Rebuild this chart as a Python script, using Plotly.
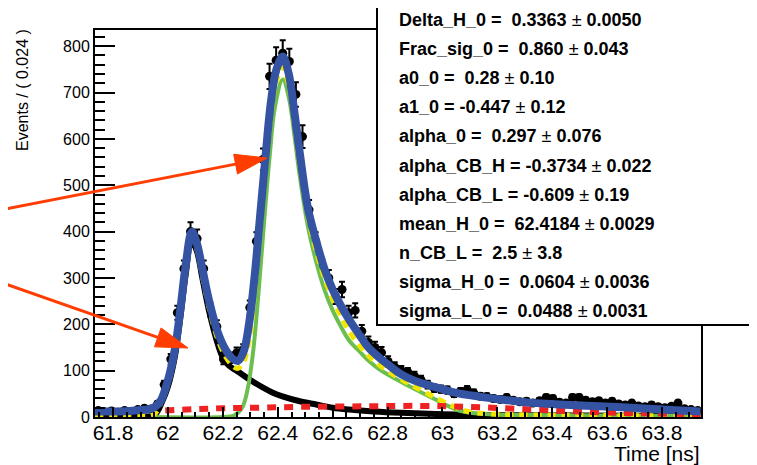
import numpy as np
import plotly.graph_objects as go

# histogram: 92 bins of 0.024 ns from 61.734 to 63.942
bin_lo = 61.734
bin_w = 0.024
counts = [14, 11, 13, 10, 14, 12, 16, 19, 17, 28,
          70, 125, 225, 320, 400, 385, 320, 232, 195, 125,
          128, 138, 145, 236, 379, 556, 735, 770, 785, 767,
          696, 605, 447, 379, 322, 300, 260, 275, 225, 230,
          185, 161, 150, 139, 120, 108, 100, 96, 88, 80,
          70, 62, 60, 58, 50, 55, 59, 52, 45, 44,
          40, 38, 42, 36, 33, 34, 30, 35, 42, 40,
          32, 30, 42, 42, 36, 33, 35, 30, 34, 28,
          26, 30, 24, 22, 26, 22, 20, 23, 30, 18,
          16, 14]
centers = bin_lo + bin_w * (np.arange(len(counts)) + 0.5)
errs = np.sqrt(counts)

# fit curves
tot_x = [61.734, 61.80, 61.86, 61.90, 61.94, 61.97, 62.00, 62.025, 62.045, 62.065,
         62.087, 62.105, 62.125, 62.15, 62.18, 62.21, 62.235, 62.255, 62.275, 62.295,
         62.315, 62.335, 62.355, 62.375, 62.395, 62.418, 62.44, 62.46, 62.48, 62.51,
         62.54, 62.571, 62.60, 62.63, 62.66, 62.70, 62.73, 62.77, 62.80, 62.85,
         62.90, 62.953, 63.00, 63.05, 63.135, 63.20, 63.316, 63.40, 63.50, 63.655,
         63.80, 63.94]
tot_y = [12, 12, 13, 15, 18, 32, 80, 146, 232, 330,
         400, 375, 320, 250, 185, 145, 126, 121, 140, 200,
         300, 430, 560, 680, 750, 778, 740, 660, 570, 450,
         380, 318, 275, 240, 210, 175, 150, 128, 114, 92,
         78, 68, 60, 52, 44, 39, 31, 28, 25, 21,
         16, 12]

hi_x = [61.95, 62.20, 62.24, 62.27, 62.29, 62.31, 62.33, 62.35, 62.37, 62.39,
        62.418, 62.44, 62.46, 62.48, 62.51, 62.54, 62.57, 62.60, 62.63, 62.66,
        62.70, 62.73, 62.77, 62.83, 62.89, 62.95, 62.98, 63.02, 63.06, 63.10,
        63.20, 63.40, 63.60, 63.94]
hi_y = [0, 0, 3, 20, 60, 140, 270, 420, 560, 670,
        728, 690, 610, 520, 410, 335, 275, 230, 195, 165,
        140, 122, 103, 82, 63, 45, 36, 24, 14, 9,
        5, 4, 3, 2]

sig_x = [61.734, 61.90, 61.95, 61.98, 62.00, 62.025, 62.045, 62.065, 62.085, 62.105,
         62.125, 62.15, 62.18, 62.21, 62.24, 62.255, 62.275, 62.295, 62.315, 62.335,
         62.355, 62.375, 62.395, 62.418, 62.44, 62.46, 62.48, 62.51, 62.54, 62.57,
         62.60, 62.63, 62.66, 62.70, 62.73, 62.77, 62.83, 62.89, 62.95, 62.98,
         63.02, 63.06, 63.10, 63.20, 63.40, 63.60, 63.94]
sig_y = [0, 1, 6, 40, 70, 135, 220, 315, 385, 362,
         305, 235, 170, 130, 108, 105, 118, 165, 265, 400,
         530, 650, 725, 755, 715, 635, 545, 432, 358, 300,
         255, 218, 185, 152, 132, 112, 88, 68, 49, 40,
         28, 18, 11, 6, 4, 3, 2]

lo_x = [61.734, 61.90, 61.95, 61.98, 62.00, 62.025, 62.045, 62.065, 62.085, 62.105,
        62.125, 62.15, 62.18, 62.20, 62.22, 62.26, 62.31, 62.38, 62.42, 62.48,
        62.54, 62.60, 62.66, 62.75, 62.85, 63.00, 63.20, 63.50, 63.94]
lo_y = [0, 1, 4, 35, 66, 130, 215, 310, 380, 358,
        300, 228, 160, 128, 112, 96, 76, 53, 44, 34,
        27, 20, 16, 12, 9, 6, 4, 3, 2]

bkg_x = [61.99, 62.10, 62.20, 62.32, 62.50, 62.72, 62.92, 63.09, 63.34, 63.58, 63.94]
bkg_y = [14, 17, 19, 20, 22, 23, 24, 22, 16, 10, 6]

par_names = ["Delta_H_0", "Frac_sig_0", "a0_0", "a1_0", "alpha_0", "alpha_CB_H",
             "alpha_CB_L", "mean_H_0", "n_CB_L", "sigma_H_0", "sigma_L_0"]
par_vals = ["0.3363", "0.860", "0.28", "-0.447", "0.297", "-0.3734",
            "-0.609", "62.4184", "2.5", "0.0604", "0.0488"]
par_errs = ["0.0050", "0.043", "0.10", "0.12", "0.076", "0.022",
            "0.19", "0.0029", "3.8", "0.0036", "0.0031"]

# the page puts the figure 8px in from the top-left corner, so the figure is
# made 8px smaller and every position below is given in page pixels
OFF = 8
FW, FH = 757 - OFF, 465 - OFF
L, T, R, B = 95, 30, 701, 417      # plot frame, page pixels
W, H = R - L, B - T


def px(x):
    return (x - L) / W


def py(y):
    return (B - y) / H


fig = go.Figure()
fig.add_trace(go.Scatter(x=centers, y=counts, mode="markers",
                         marker=dict(color="black", size=9),
                         error_y=dict(type="data", array=errs, color="black",
                                      thickness=2, width=3)))
fig.add_trace(go.Scatter(x=lo_x, y=lo_y, mode="lines", line_shape="spline",
                         line=dict(color="black", width=6)))
fig.add_trace(go.Scatter(x=hi_x, y=hi_y, mode="lines", line_shape="spline",
                         line=dict(color="#6cbf4f", width=4)))
fig.add_trace(go.Scatter(x=sig_x, y=sig_y, mode="lines", line_shape="spline",
                         line=dict(color="#f2e600", width=5, dash="8px,6px")))
fig.add_trace(go.Scatter(x=bkg_x, y=bkg_y, mode="lines", line_shape="spline",
                         line=dict(color="#ee2222", width=6, dash="9px,8px")))
fig.add_trace(go.Scatter(x=tot_x, y=tot_y, mode="lines", line_shape="spline",
                         line=dict(color="#3453a3", width=8)))

font = "Liberation Sans, Arial, Helvetica, sans-serif"
fig.update_layout(
    width=FW, height=FH, autosize=False,
    margin=dict(l=L - OFF, r=757 - R, t=T - OFF, b=465 - B),
    paper_bgcolor="white", plot_bgcolor="white",
    showlegend=False,
    font=dict(family=font, color="black"),
)
fig.update_xaxes(range=[bin_lo, bin_lo + bin_w * len(counts)],
                 showgrid=False, zeroline=False,
                 showline=True, linecolor="black", linewidth=2, mirror=True,
                 ticks="inside", ticklen=10, tickwidth=2, tickcolor="black",
                 tick0=61.8, dtick=0.2, tickfont=dict(size=21),
                 ticklabelstandoff=-4,
                 minor=dict(ticks="inside", ticklen=5, tickwidth=2,
                            tickcolor="black", dtick=0.05))
fig.update_yaxes(range=[0, 835],
                 showgrid=False, zeroline=False,
                 showline=True, linecolor="black", linewidth=2, mirror=True,
                 ticks="inside", ticklen=20, tickwidth=2, tickcolor="black",
                 dtick=100, tickfont=dict(size=16),
                 minor=dict(ticks="inside", ticklen=10, tickwidth=2,
                            tickcolor="black", dtick=20))

# axis titles, ROOT style
fig.add_annotation(text="Events / ( 0.024 )", xref="paper", yref="paper",
                   x=px(22), y=py(27), xanchor="center", yanchor="top",
                   textangle=-90, showarrow=False, font=dict(size=16))
fig.add_annotation(text="Time [ns]", xref="paper", yref="paper",
                   x=px(702), y=py(453), xanchor="right", yanchor="middle",
                   showarrow=False, font=dict(size=21))

# parameter box
fig.add_shape(type="rect", xref="paper", yref="paper",
              x0=px(377), x1=px(755), y0=py(5), y1=py(325),
              fillcolor="white", line=dict(color="black", width=2), layer="above")
for i, (n, v, e) in enumerate(zip(par_names, par_vals, par_errs)):
    sp = "\u00a0" if not v.startswith("-") else ""
    fig.add_annotation(text="<b>%s = %s%s</b> ± <b>%s</b>" % (n, sp, v, e),
                       xref="paper", yref="paper",
                       x=px(397), y=py(20 + 29.1 * i), xanchor="left", yanchor="middle",
                       showarrow=False, font=dict(size=18))


# red arrows coming in from the left edge
def arrow(x0, y0, x1, y1, head=32, half=10, color="#ff3d00"):
    dx, dy = x1 - x0, y1 - y0
    ln = (dx * dx + dy * dy) ** 0.5
    ux, uy = dx / ln, dy / ln
    bx, by = x1 - head * ux, y1 - head * uy
    nx, ny = -uy, ux
    fig.add_shape(type="line", xref="paper", yref="paper",
                  x0=px(x0), y0=py(y0), x1=px(bx), y1=py(by),
                  line=dict(color=color, width=3), layer="above")
    pts = [(x1, y1), (bx + half * nx, by + half * ny), (bx - half * nx, by - half * ny)]
    path = "M " + " L ".join("%f,%f" % (px(a), py(b)) for a, b in pts) + " Z"
    fig.add_shape(type="path", xref="paper", yref="paper", path=path,
                  fillcolor=color, line=dict(color=color, width=1), layer="above")


arrow(0, 210, 267, 158)
arrow(0, 282, 188, 348)

fig.write_html("out.html")
